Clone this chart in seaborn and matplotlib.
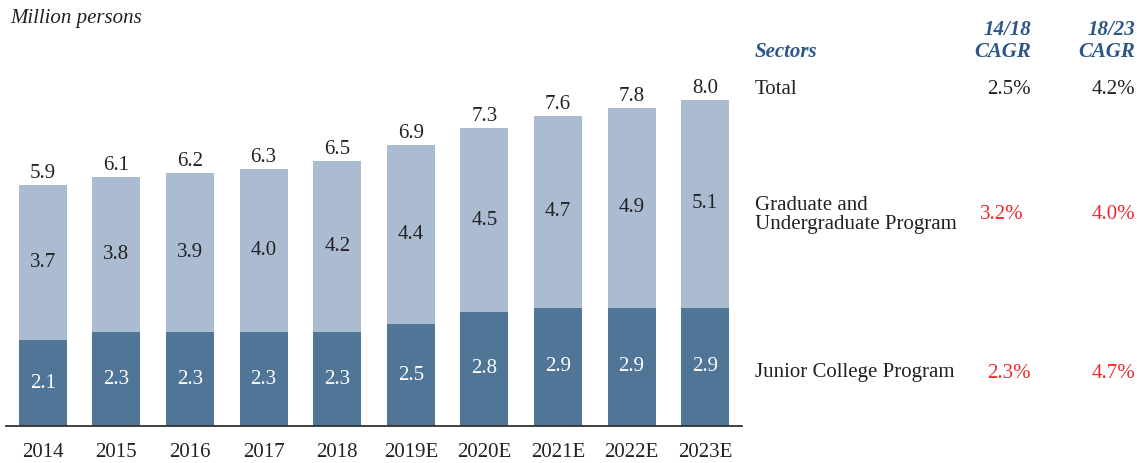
import matplotlib
matplotlib.use("Agg")
import matplotlib.pyplot as plt
import seaborn as sns
import pandas as pd

years = ["2014", "2015", "2016", "2017", "2018", "2019E", "2020E", "2021E", "2022E", "2023E"]
total = [5.9, 6.1, 6.2, 6.3, 6.5, 6.9, 7.3, 7.6, 7.8, 8.0]
graduate = [3.7, 3.8, 3.9, 4.0, 4.2, 4.4, 4.5, 4.7, 4.9, 5.1]
junior = [2.1, 2.3, 2.3, 2.3, 2.3, 2.5, 2.8, 2.9, 2.9, 2.9]

sectors = ["Total", "Graduate and\nUndergraduate Program", "Junior College Program"]
cagr_1418 = ["2.5%", "3.2%", "2.3%"]
cagr_1823 = ["4.2%", "4.0%", "4.7%"]

sns.set_theme(style="white")
plt.rcParams["font.family"] = ["Liberation Serif", "DejaVu Serif"]

LIGHT = "#abbcd2"
DARK = "#517597"
RED = "#f0282d"
BLUE = "#2c5786"
TXT = "#222222"
FS = 15

df = pd.DataFrame({"year": years, "total": total, "graduate": graduate, "junior": junior})

W, H = 1137, 463
fig = plt.figure(figsize=(W / 100, H / 100), dpi=100)
ax = fig.add_axes([6 / W, 37 / H, 736 / W, 367 / H])

sns.barplot(data=df, x="year", y="total", color=LIGHT, width=0.65, saturation=1, ax=ax,
            edgecolor="none", linewidth=0)
sns.barplot(data=df, x="year", y="junior", color=DARK, width=0.65, saturation=1, ax=ax,
            edgecolor="none", linewidth=0)

ax.set_xlim(-0.5, 9.5)
ax.set_ylim(0, 9.0)
for s in ["top", "right", "left"]:
    ax.spines[s].set_visible(False)
ax.spines["bottom"].set_color("#333333")
ax.spines["bottom"].set_linewidth(1.3)
ax.set_yticks([])
ax.set_xlabel("")
ax.set_ylabel("")
ax.tick_params(axis="x", length=0, labelsize=FS, colors=TXT, pad=12)

for i in range(len(years)):
    ax.text(i, total[i] + 0.05, f"{total[i]:.1f}", ha="center", va="bottom", fontsize=FS, color=TXT)
    ax.text(i, junior[i] + (total[i] - junior[i]) / 2, f"{graduate[i]:.1f}", ha="center", va="center",
            fontsize=FS, color=TXT)
    ax.text(i, junior[i] / 2, f"{junior[i]:.1f}", ha="center", va="center", fontsize=FS, color="white")

fig.text(10 / W, 1 - 18 / H, "Million persons", ha="left", va="center", fontsize=FS,
         style="italic", color=TXT)

# Right-hand table
def fy(y):
    return 1 - y / H

fig.text(755 / W, fy(52), "Sectors", ha="left", va="center", fontsize=FS, style="italic",
         weight="bold", color=BLUE)
fig.text(1031 / W, fy(41), "14/18\nCAGR", ha="right", va="center", fontsize=FS, style="italic",
         weight="bold", color=BLUE, linespacing=1.15, multialignment="right")
fig.text(1135 / W, fy(41), "18/23\nCAGR", ha="right", va="center", fontsize=FS, style="italic",
         weight="bold", color=BLUE, linespacing=1.15, multialignment="right")

rows_y = [89, 215, 373]
vcolors = [TXT, RED, RED]
col1_x = [1031, 1024, 1031]
for k in range(3):
    fig.text(755 / W, fy(rows_y[k]), sectors[k], ha="left", va="center", fontsize=FS, color=TXT,
             linespacing=1.0)
    fig.text(col1_x[k] / W, fy(rows_y[k]), cagr_1418[k], ha="right", va="center", fontsize=FS,
             color=vcolors[k])
    fig.text(1135 / W, fy(rows_y[k]), cagr_1823[k], ha="right", va="center", fontsize=FS, color=vcolors[k])

fig.savefig("out.png", dpi=100)
